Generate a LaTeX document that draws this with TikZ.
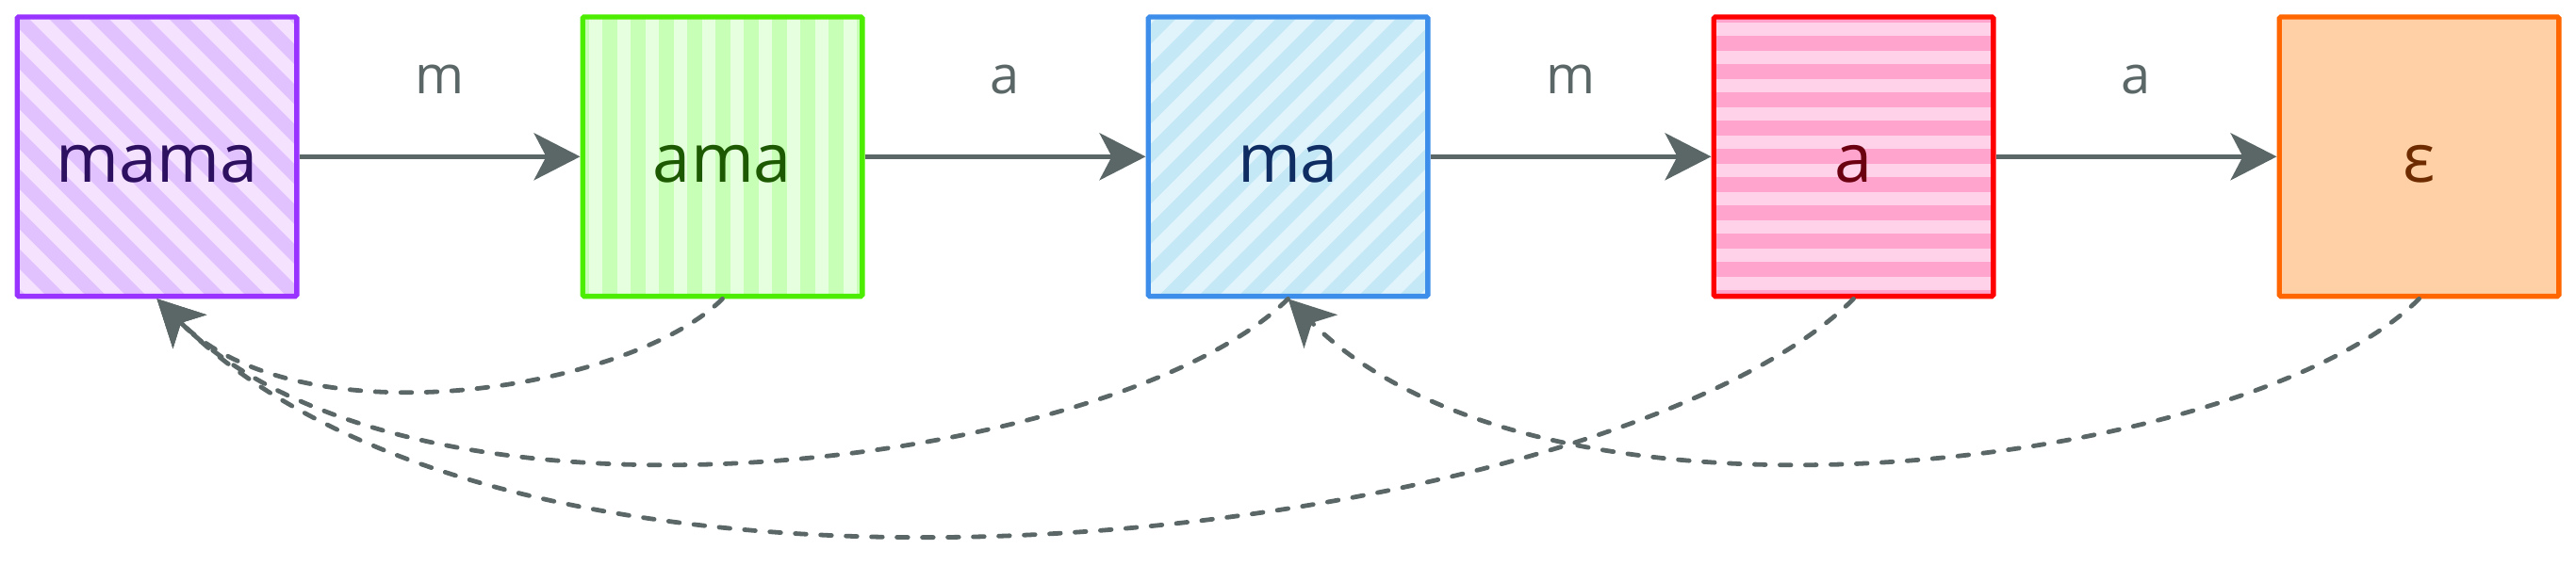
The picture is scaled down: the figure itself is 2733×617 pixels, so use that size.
\documentclass[tikz,border=0pt]{standalone}
\usepackage{fontspec}
\setmainfont{Open Sans}
\usetikzlibrary{arrows.meta}
\definecolor{arr}{HTML}{5B6767}
\definecolor{bA}{HTML}{9933FF}\definecolor{bAd}{HTML}{E2C1FF}\definecolor{bAl}{HTML}{F4E2FF}\definecolor{bAt}{HTML}{2E1060}
\definecolor{bB}{HTML}{4DED00}\definecolor{bBd}{HTML}{C8FFB6}\definecolor{bBl}{HTML}{E6FFDF}\definecolor{bBt}{HTML}{1D5900}
\definecolor{bC}{HTML}{3D8EEA}\definecolor{bCd}{HTML}{C5E8F7}\definecolor{bCl}{HTML}{E2F4FB}\definecolor{bCt}{HTML}{0F2D63}
\definecolor{bD}{HTML}{FF0000}\definecolor{bDd}{HTML}{FFA5CD}\definecolor{bDl}{HTML}{FFD2EA}\definecolor{bDt}{HTML}{6B0010}
\definecolor{bE}{HTML}{FF6600}\definecolor{bEf}{HTML}{FFD0A5}\definecolor{bEt}{HTML}{6E2B00}
\tikzset{
  box/.style={draw, line width=2.7pt, minimum size=148.3pt, inner sep=0pt,
    rounded corners=0.8pt, font=\fontsize{36}{40}\selectfont,
    text height=27pt, text depth=0pt},
  backslashstripes/.style={path picture={
    \foreach \k in {-9,...,9}{
      \draw[#1, line width=7.5pt] ([shift={(\k*42.43-260,260)}]path picture bounding box.center) -- ++(520,-520);
    }}},
  slashstripes/.style={path picture={
    \foreach \k in {-9,...,9}{
      \draw[#1, line width=7.5pt] ([shift={(\k*42.43+21.2-260,-260)}]path picture bounding box.center) -- ++(520,520);
    }}},
  vstripes/.style={path picture={
    \foreach \k in {-6,...,6}{
      \draw[#1, line width=8pt] ([shift={(\k*30,-200)}]path picture bounding box.center) -- ++(0,400);
    }}},
  hstripes/.style={path picture={
    \foreach \k in {-6,...,6}{
      \draw[#1, line width=8pt] ([shift={(-200,\k*30)}]path picture bounding box.center) -- ++(400,0);
    }}},
  tipstyle/.style={-{Stealth[length=24.5pt,width=25pt,inset=6.5pt]}},
  edge/.style={draw=arr, line width=2.4pt, tipstyle},
  link/.style={draw=arr, line width=2.4pt, line cap=round, dash pattern=on 5.8pt off 7.7pt, tipstyle},
  lbl/.style={midway, anchor=base, yshift=33.3pt, text=arr, inner sep=0pt,
    font=\fontsize{28}{32}\selectfont},
}
\begin{document}
\begin{tikzpicture}[x=0.5pt,y=0.5pt]
\useasboundingbox (0,0) rectangle (2733,-617);
\node[box, draw=bA, fill=bAl, text=bAt, backslashstripes=bAd] (n1) at (166.5,-166.3) {mama};
\node[box, draw=bB, fill=bBl, text=bBt, vstripes=bBd] (n2) at (766.5,-166.3) {ama};
\node[box, draw=bC, fill=bCl, text=bCt, slashstripes=bCd] (n3) at (1366.5,-166.3) {ma};
\node[box, draw=bD, fill=bDl, text=bDt, hstripes=bDd] (n4) at (1966.5,-166.3) {a};
\node[box, draw=bE, fill=bEf, text=bEt] (n5) at (2566.5,-166.3) {ε};
\draw[edge] (n1) -- (n2) node[lbl] {m};
\draw[edge] (n2) -- (n3) node[lbl] {a};
\draw[edge] (n3) -- (n4) node[lbl] {m};
\draw[edge] (n4) -- (n5) node[lbl] {a};
\draw[link] (n2.south) to[out=-135,in=-45,out looseness=0.58,in looseness=0.93] (n1.south);
\draw[link] (n3.south) to[out=-135,in=-45,out looseness=0.53,in looseness=0.84] (n1.south);
\draw[link] (n4.south) to[out=-135,in=-45,out looseness=0.505,in looseness=0.815] (n1.south);
\draw[link] (n5.south) to[out=-135,in=-45,out looseness=0.53,in looseness=0.84] (n3.south);
\end{tikzpicture}
\end{document}
